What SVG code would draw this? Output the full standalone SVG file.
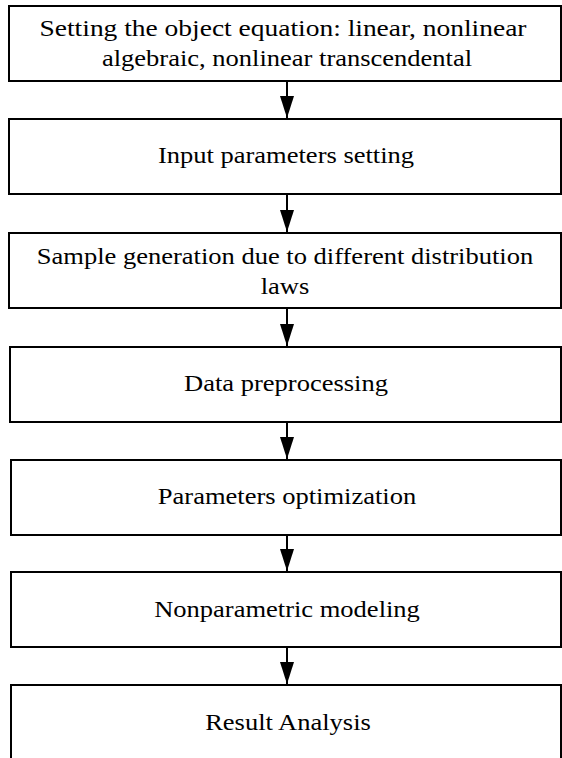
<svg xmlns="http://www.w3.org/2000/svg" width="562" height="758" viewBox="0 0 562 758">
<style>
.box{fill:#fff;stroke:#000;stroke-width:2}
.t{font-family:"Liberation Serif","Times New Roman",serif;font-size:24px;fill:#000;text-anchor:middle}
.c{stroke:#000;stroke-width:2;fill:none}
</style>
<defs>
<marker id="ah" viewBox="0 0 22 14" refX="22" refY="7" markerWidth="22" markerHeight="14" markerUnits="userSpaceOnUse" orient="auto">
<path d="M0,0 L22,7 L0,14 Z" fill="#000"/>
</marker>
</defs>
<rect width="562" height="758" fill="#fff"/>
<g id="n1"><rect class="box" x="9" y="6" width="552" height="75"/><text class="t" transform="translate(283,36) scale(1.145,1)">Setting the object equation: linear, nonlinear</text><text class="t" transform="translate(287,66) scale(1.105,1)">algebraic, nonlinear transcendental</text></g>
<g id="n2"><rect class="box" x="9" y="119" width="552" height="75"/><text class="t" transform="translate(286,163) scale(1.105,1)">Input parameters setting</text></g>
<g id="n3"><rect class="box" x="9" y="233" width="552" height="75"/><text class="t" transform="translate(285,264) scale(1.105,1)">Sample generation due to different distribution</text><text class="t" transform="translate(285,294) scale(1.105,1)">laws</text></g>
<g id="n4"><rect class="box" x="10" y="347" width="551" height="75"/><text class="t" transform="translate(286,391) scale(1.105,1)">Data preprocessing</text></g>
<g id="n5"><rect class="box" x="11" y="460" width="550" height="75"/><text class="t" transform="translate(287,504) scale(1.105,1)">Parameters optimization</text></g>
<g id="n6"><rect class="box" x="11" y="572" width="550" height="75"/><text class="t" transform="translate(287,617) scale(1.105,1)">Nonparametric modeling</text></g>
<g id="n7"><rect class="box" x="11" y="685" width="550" height="80"/><text class="t" transform="translate(288,730) scale(1.105,1)">Result Analysis</text></g>
<g id="connectors">
<line class="c" x1="287" y1="81" x2="287" y2="118" marker-end="url(#ah)"/>
<line class="c" x1="287" y1="194" x2="287" y2="232" marker-end="url(#ah)"/>
<line class="c" x1="287" y1="308" x2="287" y2="346" marker-end="url(#ah)"/>
<line class="c" x1="287" y1="422" x2="287" y2="459" marker-end="url(#ah)"/>
<line class="c" x1="287" y1="535" x2="287" y2="571" marker-end="url(#ah)"/>
<line class="c" x1="287" y1="647" x2="287" y2="684" marker-end="url(#ah)"/>
</g>
</svg>
